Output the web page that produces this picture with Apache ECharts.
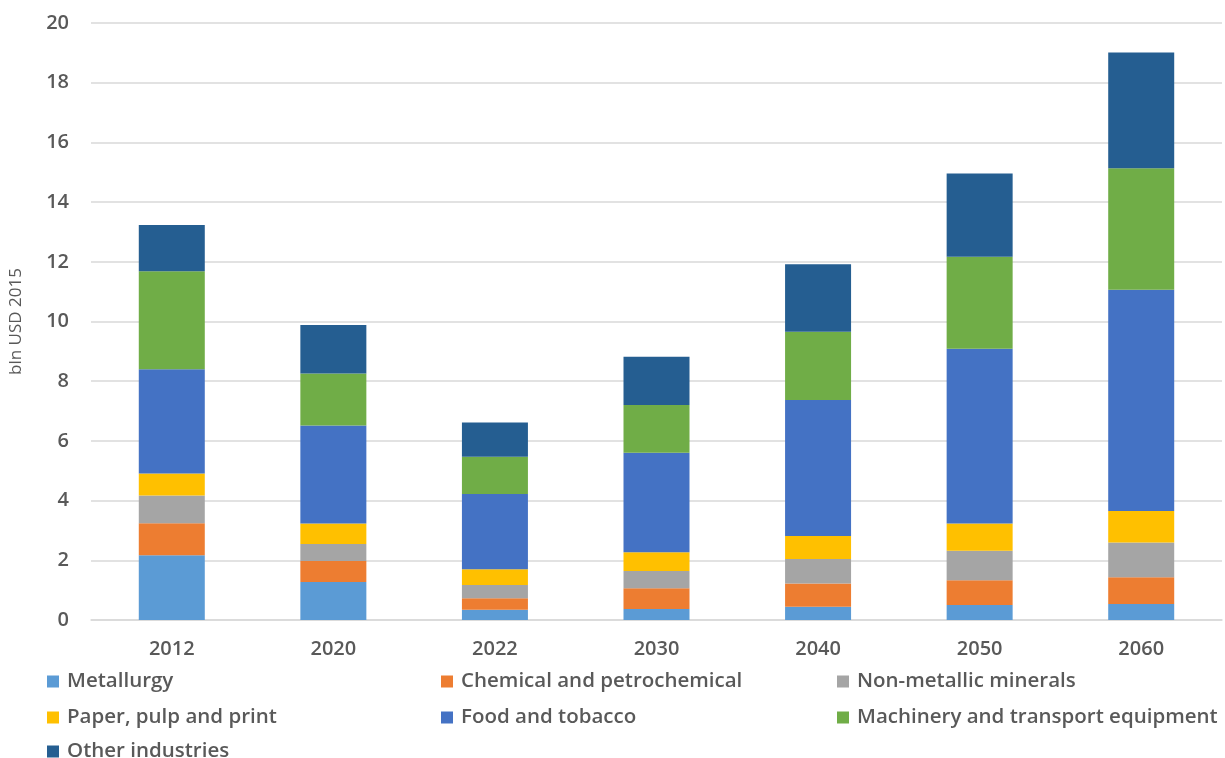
<!DOCTYPE html>
<html>
<head>
<meta charset="utf-8">
<script src="https://cdn.jsdelivr.net/npm/echarts@6/dist/echarts.min.js"></script>
<style>
  html, body { margin: 0; padding: 0; background: #ffffff; }
  #chart { width: 1225px; height: 758px; }
</style>
</head>
<body>
<div id="chart"></div>
<script>
// Industrial output by sector, bln USD 2015
const years = ['2012', '2020', '2022', '2030', '2040', '2050', '2060'];
const metallurgy = [2.17, 1.27, 0.34, 0.37, 0.44, 0.50, 0.54];
const chemical   = [1.07, 0.71, 0.39, 0.69, 0.78, 0.83, 0.89];
const nonMetallic = [0.93, 0.57, 0.44, 0.58, 0.82, 0.99, 1.17];
const paper      = [0.74, 0.68, 0.53, 0.63, 0.77, 0.91, 1.05];
const food       = [3.49, 3.29, 2.52, 3.33, 4.56, 5.86, 7.41];
const machinery  = [3.28, 1.74, 1.25, 1.60, 2.29, 3.08, 4.07];
const other      = [1.55, 1.62, 1.15, 1.62, 2.26, 2.79, 3.88];
const yTicks = [0, 2, 4, 6, 8, 10, 12, 14, 16, 18, 20];

const seriesDefs = [
  { name: 'Metallurgy', data: metallurgy, color: '#5B9BD5' },
  { name: 'Chemical and petrochemical', data: chemical, color: '#ED7D31' },
  { name: 'Non-metallic minerals', data: nonMetallic, color: '#A5A5A5' },
  { name: 'Paper, pulp and print', data: paper, color: '#FFC000' },
  { name: 'Food and tobacco', data: food, color: '#4472C4' },
  { name: 'Machinery and transport equipment', data: machinery, color: '#70AD47' },
  { name: 'Other industries', data: other, color: '#255E91' }
];

const FONT = '"Open Sans", "Noto Sans", sans-serif';
const TEXT = '#595959';

// legend laid out as a 3-column grid
const legendPos = [
  [42, 666], [436, 666], [832, 666],
  [42, 702], [436, 702], [832, 702],
  [42, 736]
];

const chart = echarts.init(document.getElementById('chart'), null, { renderer: 'canvas' });
chart.setOption({
  animation: false,
  backgroundColor: '#ffffff',
  grid: { left: 84, right: 3, top: 23, bottom: 138, containLabel: false },
  legend: seriesDefs.map((s, i) => ({
    data: [s.name],
    left: legendPos[i][0],
    top: legendPos[i][1],
    itemWidth: 12,
    itemHeight: 12,
    itemGap: 0,
    icon: 'rect',
    textStyle: { fontFamily: FONT, fontSize: 20.5, fontWeight: 600, color: TEXT, padding: [0, 0, 0, 3] }
  })),
  xAxis: {
    type: 'category',
    data: years,
    axisTick: { show: false },
    axisLine: { lineStyle: { color: '#d9d9d9', width: 1.5 } },
    axisLabel: { fontFamily: FONT, fontSize: 20, fontWeight: 600, color: TEXT, margin: 19 }
  },
  yAxis: {
    type: 'value',
    min: yTicks[0],
    max: yTicks[yTicks.length - 1],
    interval: 2,
    name: 'bln USD 2015',
    nameLocation: 'middle',
    nameGap: 66,
    nameRotate: 90,
    nameTextStyle: { fontFamily: FONT, fontSize: 17, color: TEXT },
    axisLine: { show: false },
    axisTick: { show: false },
    splitLine: { lineStyle: { color: '#d9d9d9', width: 1.5 } },
    axisLabel: { fontFamily: FONT, fontSize: 20, fontWeight: 600, color: TEXT, margin: 22 }
  },
  series: seriesDefs.map(s => ({
    name: s.name,
    type: 'bar',
    stack: 'total',
    barWidth: 66,
    data: s.data,
    itemStyle: { color: s.color }
  }))
});
</script>
</body>
</html>
